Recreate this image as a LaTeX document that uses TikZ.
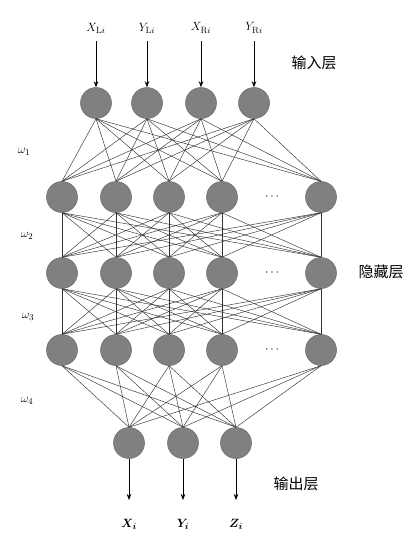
\documentclass[tikz,border=0pt]{standalone}
\usepackage{amsmath}
\usepackage{fontspec}
\newfontfamily\cjk{Noto Sans CJK SC}
\usetikzlibrary{arrows.meta}
\begin{document}
\begin{tikzpicture}[x=1pt,y=-1pt,
  neuron/.style={circle,minimum size=31pt,inner sep=0pt,fill={rgb,255:red,128;green,128;blue,128},draw={rgb,255:red,105;green,105;blue,105},line width=0.5pt},
  link/.style={line width=0.45pt,draw={rgb,255:red,50;green,50;blue,50}},
  arr/.style={line width=0.6pt,-{Stealth[length=6pt,width=4.5pt]}},
  lab/.style={font=\fontsize{13}{15}\selectfont,inner sep=0pt},
  cn/.style={font=\cjk\fontsize{15}{17}\selectfont,inner sep=0pt}]
\fill[white] (0,0) rectangle (418,544);
\useasboundingbox (0,0) rectangle (418,544);
% input layer
\foreach \n/\x in {1/96,2/147,3/201,4/254}{\node[neuron] (i\n) at (\x,103) {};}
% hidden layers
\foreach \n/\x in {1/62,2/116,3/169,4/222,5/321}{
  \node[neuron] (a\n) at (\x,197) {};
  \node[neuron] (b\n) at (\x,273) {};
  \node[neuron] (c\n) at (\x,350) {};
}
\node[lab] (d1) at (273,197) {$\cdots$};
\node[lab] (d2) at (273,273) {$\cdots$};
\node[lab] (d3) at (273,350) {$\cdots$};
% output layer
\foreach \n/\x in {1/129,2/183,3/236}{\node[neuron] (o\n) at (\x,443) {};}
% connections
\foreach \i in {1,...,4}{\foreach \j in {1,...,5}{\draw[link] (i\i.south) -- (a\j.north);}}
\foreach \i in {1,...,5}{\foreach \j in {1,...,5}{
  \draw[link] (a\i.south) -- (b\j.north);
  \draw[link] (b\i.south) -- (c\j.north);}}
\foreach \i in {1,...,5}{\foreach \j in {1,...,3}{\draw[link] (c\i.south) -- (o\j.north);}}
% input labels and arrows
\node[lab] (xl) at (96,28) {$X_{\mathrm{L}i}$};
\node[lab] (yl) at (147,28) {$Y_{\mathrm{L}i}$};
\node[lab] (xr) at (201,28) {$X_{\mathrm{R}i}$};
\node[lab] (yr) at (254,28) {$Y_{\mathrm{R}i}$};
\foreach \a/\b in {xl/i1,yl/i2,xr/i3,yr/i4}{\draw[arr] ([yshift=-8pt]\a.south) -- (\b.north);}
% output arrows and labels
\node[lab] (xo) at (129,524) {$\boldsymbol{X_i}$};
\node[lab] (yo) at (183,524) {$\boldsymbol{Y_i}$};
\node[lab] (zo) at (236,524) {$\boldsymbol{Z_i}$};
\coordinate (e1) at (129,500);
\coordinate (e2) at (183,500);
\coordinate (e3) at (236,500);
\foreach \n in {1,2,3}{\draw[arr] (o\n.south) -- (e\n);}
% omega labels
\node[lab] (w1) at (24,152) {$\omega_1$};
\node[lab] (w2) at (27,236) {$\omega_2$};
\node[lab] (w3) at (28,317) {$\omega_3$};
\node[lab] (w4) at (27,401) {$\omega_4$};
% layer names
\node[cn] (inl) at (314,63) {输入层};
\node[cn] (hil) at (381,272) {隐藏层};
\node[cn] (oul) at (296,484) {输出层};
\end{tikzpicture}
\end{document}
